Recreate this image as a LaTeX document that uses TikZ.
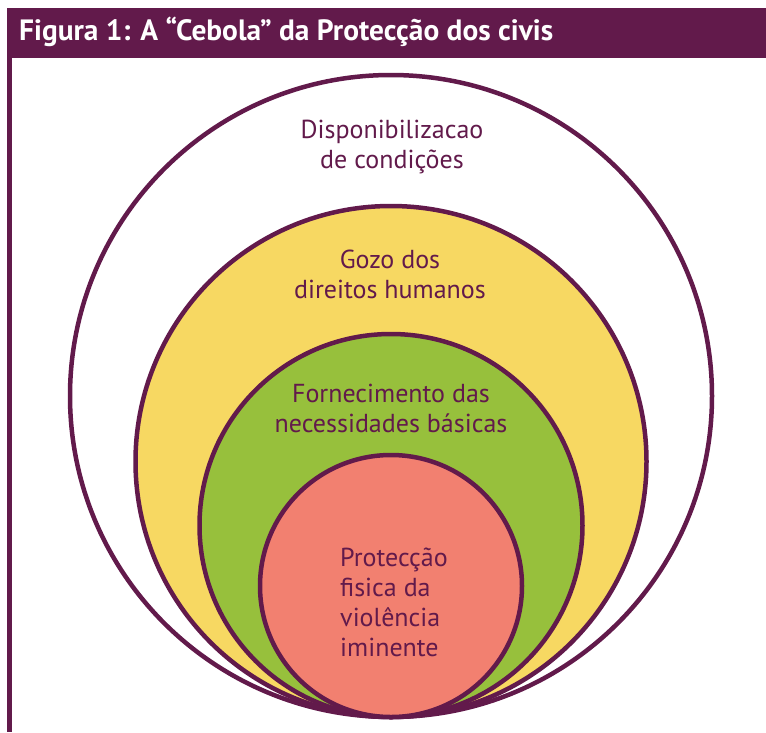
\documentclass[tikz,border=0pt]{standalone}
\usepackage{fontspec}
\setmainfont{PT Sans}
\usepackage{tikz}
\definecolor{cpur}{HTML}{621A4B}
\definecolor{cyel}{HTML}{F7D862}
\definecolor{cgrn}{HTML}{97C03C}
\definecolor{cred}{HTML}{F28070}
\newcommand*{\txt}{\fontsize{26}{30}\selectfont}

\begin{document}
\begin{tikzpicture}[x=1pt, y=-1pt]
    \useasboundingbox(0, 0)rectangle(766, 732);
    \fill[cpur](7, 8)rectangle(766, 58);
    \fill[cpur](7, 8)rectangle(12, 732);
    \node[anchor=base west, text=white, inner sep=0](title)at(19, 40)
        {\fontsize{29.4}{30}\selectfont\bfseries Figura 1: A “Cebola” da Protecção dos civis};
    \draw[line width=4.5, cpur, fill=white](391, 396)circle[radius=321];
    \draw[line width=4.5, cpur, fill=cyel](391, 461.5)circle[radius=255.5];
    \draw[line width=4.5, cpur, fill=cgrn](391, 525.5)circle[radius=191.5];
    \draw[line width=4.5, cpur, fill=cred](391, 586)circle[radius=131];
    \node[text=cpur, align=center, font=\txt](outer)at(392, 147){Disponibilizacao\\ de condições};
    \node[text=cpur, align=center, font=\txt](gozo)at(390, 274){Gozo dos\\ direitos humanos};
    \node[text=cpur, align=center, font=\txt](need)at(391, 408){Fornecimento das\\ necessidades básicas};
    \node[text=cpur, align=left, font=\txt](prot)at(394, 602){Protecção\\ fisica da\\ violência\\ iminente};
\end{tikzpicture}
\end{document}
